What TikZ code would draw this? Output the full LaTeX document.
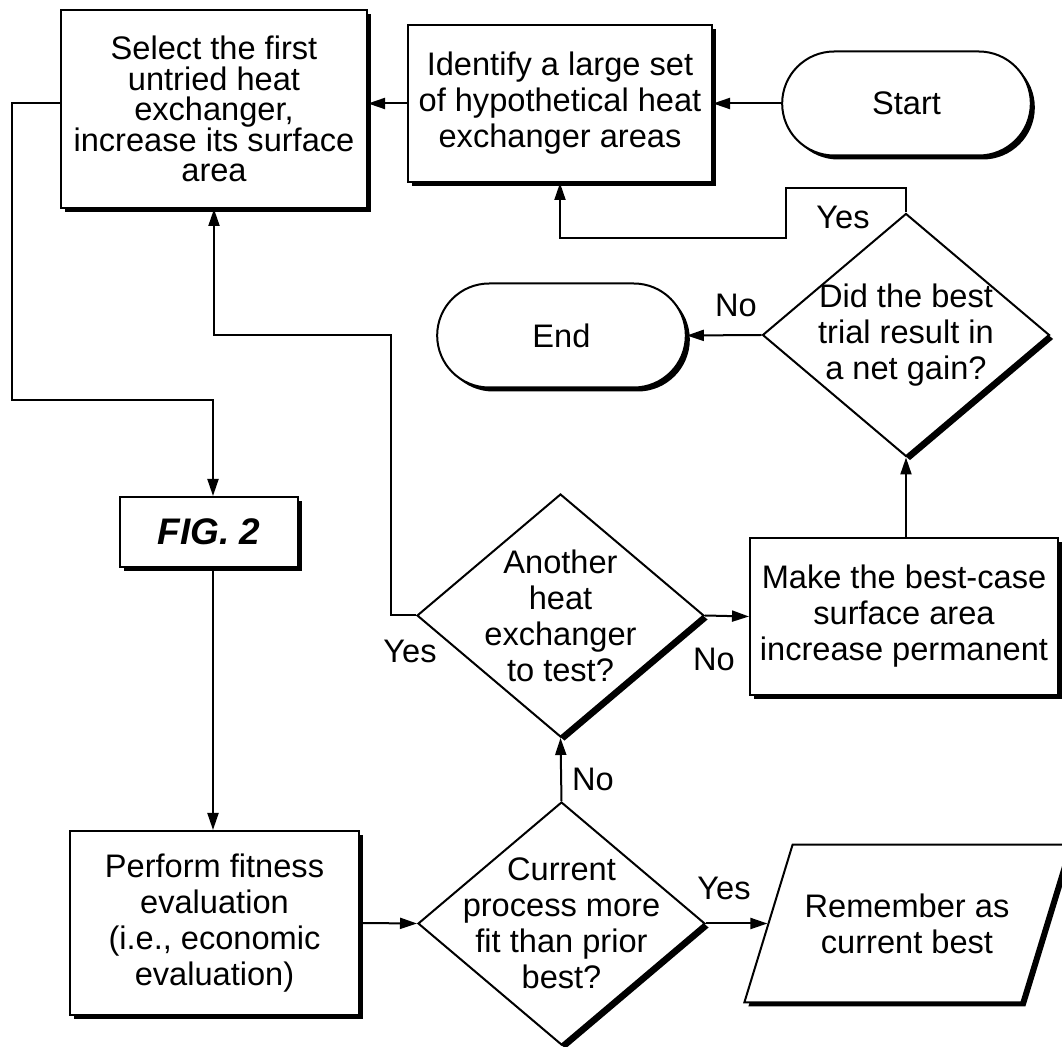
\documentclass[tikz,border=0pt]{standalone}
\usepackage{fontspec}
\setmainfont{Liberation Sans}
\usetikzlibrary{shapes.geometric,shapes.misc,shadows,arrows.meta}

\begin{document}
\begin{tikzpicture}[x=0.5pt,y=-0.5pt,
  every node/.style={font=\fontsize{16.3}{18}\selectfont},
  blackshadow/.style={drop shadow={shadow xshift=2pt,shadow yshift=-2pt,opacity=1,fill=black}},
  box/.style={rectangle,draw,line width=1pt,fill=white,blackshadow,align=center,inner sep=0pt},
  decide/.style={diamond,draw,line width=1pt,fill=white,blackshadow,align=center,inner sep=-12pt,aspect=1,
    minimum width=143.5pt,minimum height=121.5pt},
  term/.style={rounded rectangle,draw,line width=1pt,fill=white,blackshadow,minimum width=131pt,minimum height=52pt},
  para/.style={trapezium,trapezium left angle=73,trapezium right angle=107,
    draw,line width=1pt,fill=white,blackshadow,align=center,inner xsep=6pt,inner ysep=24.5pt},
  line/.style={line width=1pt},
  flow/.style={line width=1pt,-{Triangle[length=8.5pt,width=5.5pt]}}]
\useasboundingbox (0,0) rectangle (1062,1047);

% top row
\node[box,minimum width=153pt,minimum height=99pt,font=\fontsize{16.3}{15.2}\selectfont] (select) at (214,109)
  {Select the first\\untried heat\\exchanger,\\increase its surface\\area};
\node[box,minimum width=152pt,minimum height=78.5pt] (ident) at (560,103.5)
  {Identify a large set\\of hypothetical heat\\exchanger areas};
\node[term] (start) at (906.5,103.5) {Start};

% gain test
\node[decide] (did) at (906,335) {Did the best\\trial result in\\a net gain?};
\node[term] (end) at (561.5,335.5) {End};

% left column
\node[box,minimum width=89pt,minimum height=35pt,font=\fontsize{18.5}{20}\selectfont\bfseries\itshape] (fig) at (209,532) {FIG. 2};
\node[box,minimum width=144.5pt,minimum height=92pt] (perf) at (214.5,923)
  {Perform fitness\\evaluation\\(i.e., economic\\evaluation)};

% middle column
\node[decide] (another) at (560.5,615.5) {Another\\heat\\exchanger\\to test?};
\node[decide] (current) at (561.5,923.5) {Current\\process more\\fit than prior\\best?};

% right column
\node[box,minimum width=154pt,minimum height=78.5pt] (make) at (904,616.5)
  {Make the best-case\\surface area\\increase permanent};
\node[para] (remember) at (907,923.5) {Remember as\\current best};

% connectors
\coordinate (loopL) at (12,400);
\coordinate (loopR) at (213,400);
\coordinate (backR) at (391,335);
\coordinate (yesT) at (786,188);
\coordinate (yesB) at (786,238);

\draw[flow] (start.west) -- (ident.east);
\draw[flow] (ident.west) -- (ident.west -| select.east);
\draw[flow] (ident.west -| select.west) -| (loopL) -- (loopR) -- (loopR |- fig.north);
\draw[flow] (loopR |- fig.south) -- (loopR |- perf.north);
\draw[flow] (perf.east) -- (current.west);
\draw[flow] (current.east) -- (current.east -| remember.west);
\draw[flow] (current.north) -- (another.south);
\draw[flow] (another.west) -| (backR) -| (select.south);
\draw[flow] (another.east) -- (make.west);
\draw[flow] (did.south |- make.north) -- (did.south);
\draw[flow] (did.west) -- (end.east);
\draw[flow] (did.north) |- (yesT) -- (yesB) -| (ident.south);

% branch labels
\node (yesgain) at (843,217) {Yes};
\node (nogain) at (736,305) {No};
\node (yesmore) at (410,651) {Yes};
\node (nomore) at (714,659) {No};
\node (nofit) at (593,779) {No};
\node (yesfit) at (724,888) {Yes};
\end{tikzpicture}
\end{document}
